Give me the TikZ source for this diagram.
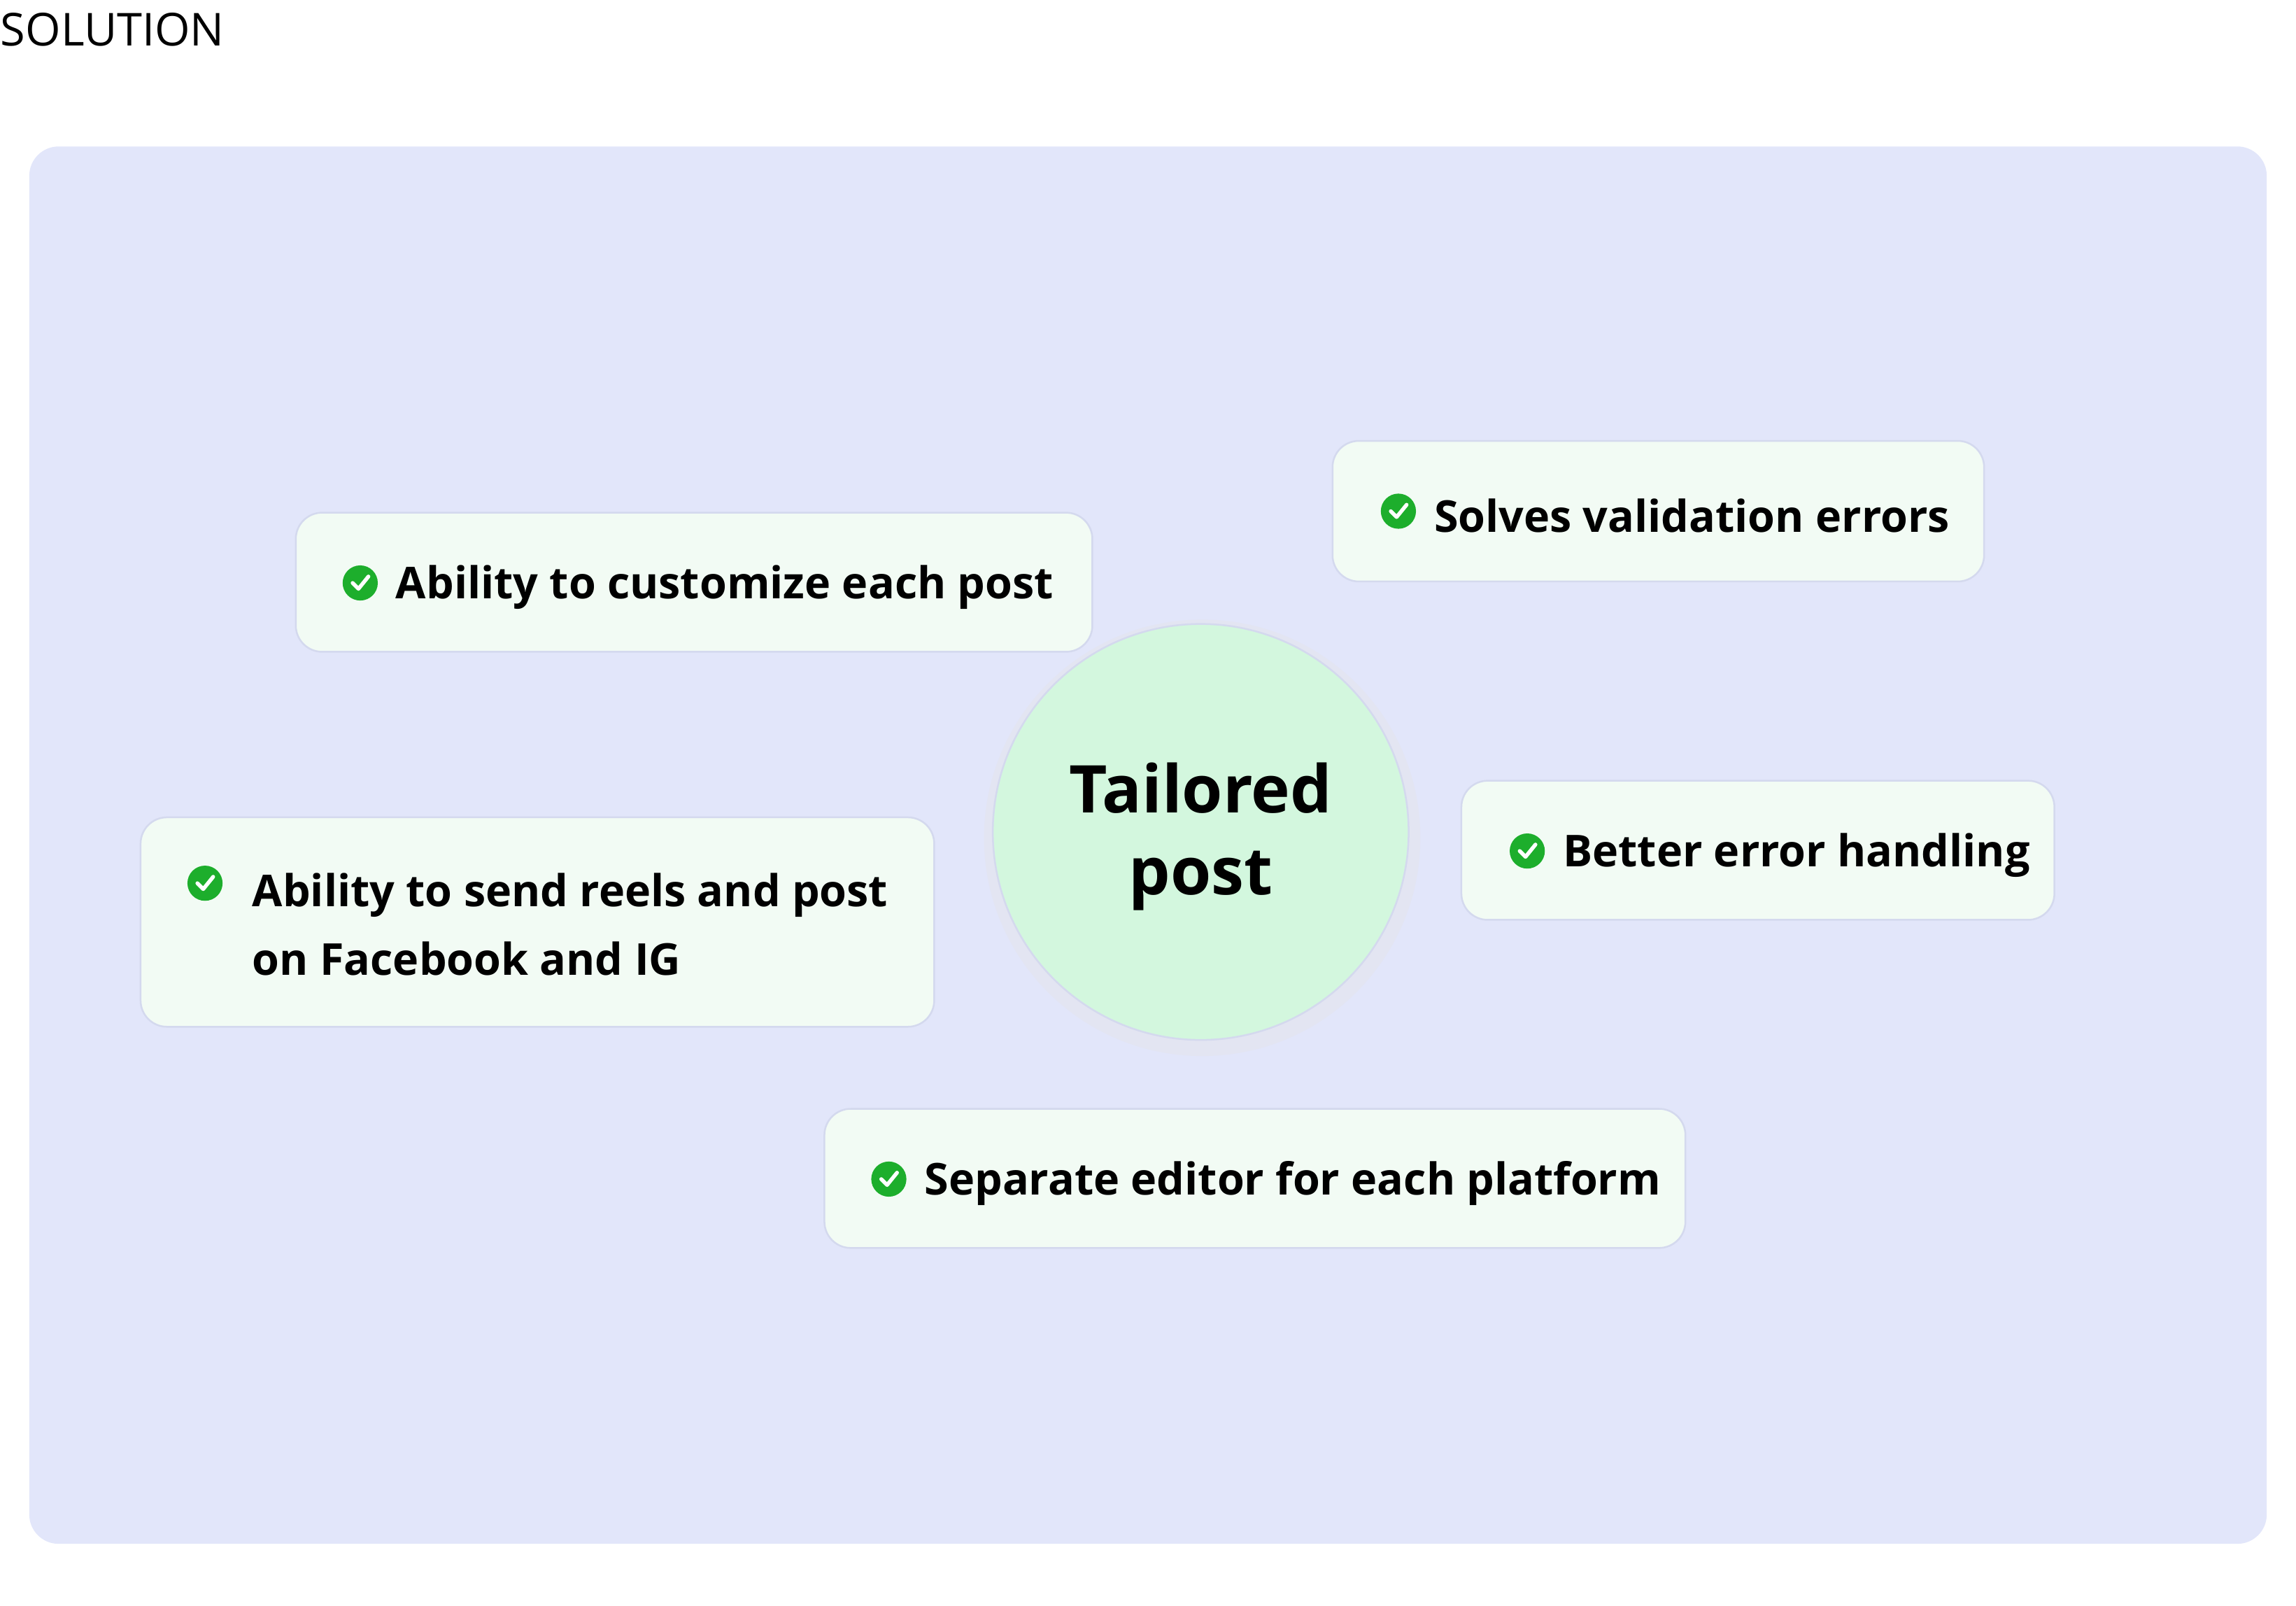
\documentclass[tikz,border=0pt]{standalone}
\usepackage{fontspec}
\setmainfont{Open Sans}
\usetikzlibrary{positioning}
\definecolor{panel}{HTML}{E2E6FA}
\definecolor{boxfill}{HTML}{F2FBF4}
\definecolor{boxline}{HTML}{D4D9EE}
\definecolor{circfill}{HTML}{D3F7DE}
\definecolor{chk}{HTML}{1DAE2C}
\tikzset{
  card/.style={draw=boxline,line width=0.6pt,fill=boxfill,rounded corners=9pt},
  lbl/.style={anchor=west,font=\fontsize{15}{24}\selectfont\bfseries,text=black,inner sep=0},
  chkc/.style={circle,fill=chk,minimum size=12pt,inner sep=0}
}
\newcommand{\chkmark}[1]{\node[chkc] (#1) at (#1) {}; \draw[white,line width=1.3pt,line cap=round,line join=round] ([xshift=-2.6pt,yshift=0pt]#1.center) -- ([xshift=-0.6pt,yshift=-2pt]#1.center) -- ([xshift=2.8pt,yshift=2.2pt]#1.center);}
\begin{document}
\begin{tikzpicture}[x=0.5pt,y=-0.5pt]
\useasboundingbox (0,0) rectangle (1568,1096);
\node[anchor=west,font=\fontsize{15.5}{18}\selectfont,inner sep=0] (title) at (0,20) {SOLUTION};
\fill[panel,rounded corners=10pt] (20,100) rectangle (1548,1054);
% boxes
\draw[card] (202,350) rectangle (746,445);
\coordinate (k1) at (246,398); \chkmark{k1}
\node[lbl] (t1) at (270,401) {Ability to customize each post};
\draw[card] (910,301) rectangle (1355,397);
\coordinate (k2) at (955,349); \chkmark{k2}
\node[lbl] (t2) at (979,352) {Solves validation errors};
\draw[card] (96,558) rectangle (638,701);
\coordinate (k3) at (140,603); \chkmark{k3}
\node[lbl,align=left,font=\fontsize{15}{23.5}\selectfont\bfseries] (t3) at (172,631) {Ability to send reels and post\\on Facebook and IG};
\draw[card] (998,533) rectangle (1403,628);
\coordinate (k4) at (1043,581); \chkmark{k4}
\node[lbl] (t4) at (1067,584) {Better error handling};
\draw[card] (563,757) rectangle (1151,852);
\coordinate (k5) at (607,805); \chkmark{k5}
\node[lbl] (t5) at (631,808) {Separate editor for each platform};
% circle
\fill[black!10,opacity=0.35] (821,572) circle (74.5pt);
\node[circle,fill=circfill,draw=boxline,line width=0.6pt,minimum size=142pt,inner sep=0] (c) at (820,568) {};
\node[align=center,font=\fontsize{22.5}{28}\selectfont\bfseries] (ct) at (820,571) {Tailored\\post};
\end{tikzpicture}
\end{document}
